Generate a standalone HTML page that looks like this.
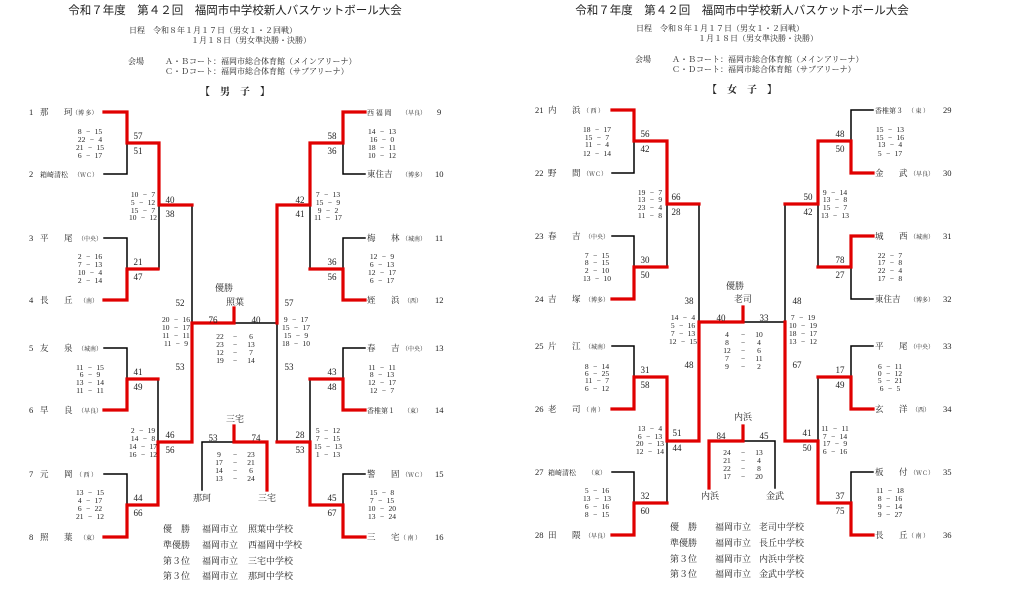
<!DOCTYPE html>
<html><head><meta charset="utf-8"><style>
html,body{margin:0;padding:0;background:#fff;}
svg{display:block;font-family:"Liberation Serif","Noto Serif CJK SC","Noto Sans CJK JP",serif;}
.s{font-size:7.5px;text-anchor:middle;fill:#222;word-spacing:2.5px}
.n{font-size:8.5px;fill:#222}
.sc{font-size:9px;fill:#222}
.rg{font-size:6px;fill:#222}
.h{font-size:8px;fill:#222}
</style></head><body>
<svg width="1021" height="603" viewBox="0 0 1021 603" xmlns="http://www.w3.org/2000/svg">
<g fill="none" stroke-linecap="square">
<g stroke="#000" stroke-width="1.5">
<path d="M104 174H127V143"/><path d="M104 238H127V269"/><path d="M159 205V269"/>
<path d="M104 348H127V379"/><path d="M104 474H127V505"/><path d="M158 379V442"/>
<path d="M192 205V323"/><path d="M234 323H277"/><path d="M277 323V442"/>
<path d="M365 174H343V143"/><path d="M365 238H343V269"/><path d="M310 205V269"/>
<path d="M365 348H343V379"/><path d="M365 474H343V505"/><path d="M310 379V442"/>
<path d="M234 442H202V490"/>
</g>
<g stroke="#e00000" stroke-width="3.2">
<path d="M104 112H127V143H159V205H192"/><path d="M104 300H127V269H158"/>
<path d="M104 410H127V379H158"/><path d="M104 537H127V505H158V442H192V323H234V308"/>
<path d="M365 112H343V143H310V205H277V323"/><path d="M365 300H343V269H310"/>
<path d="M365 410H343V379H310"/><path d="M365 537H343V505H310V442H277"/>
<path d="M234 426V442H267V490"/>
</g>
<g stroke="#000" stroke-width="1.5">
<path d="M612 173H634V141"/><path d="M612 236H634V267"/><path d="M667 204V267"/>
<path d="M612 346H634V377"/><path d="M612 472H634V503H667V441"/>
<path d="M699 204V322"/><path d="M743 322H785V204"/>
<path d="M873 110H851V141"/><path d="M873 299H851V267"/><path d="M818 204V267"/>
<path d="M873 346H851V377"/><path d="M818 377V441"/><path d="M873 472H851V503"/>
<path d="M743 441H775V488"/>
</g>
<g stroke="#e00000" stroke-width="3.2">
<path d="M612 110H634V141H667V204H699"/><path d="M612 299H634V267H667"/>
<path d="M612 409H634V377H667V441H699V322H743V307"/><path d="M612 535H634V503H667"/>
<path d="M873 173H851V141H818V204H785"/><path d="M873 236H851V267H818"/>
<path d="M873 409H851V377H818"/><path d="M873 535H851V503H818V441H785V322"/>
<path d="M743 426V441H709V488"/>
</g>
</g>

<g font-family="Liberation Sans,Noto Sans CJK JP,sans-serif">
<text x="235" y="14" font-size="11.5" text-anchor="middle" fill="#222">令和７年度　第４２回　福岡市中学校新人バスケットボール大会</text>
<text x="742" y="14" font-size="11.5" text-anchor="middle" fill="#222">令和７年度　第４２回　福岡市中学校新人バスケットボール大会</text>
</g>
<g class="h">
<text x="129" y="33">日程　令和８年１月１７日（男女１・２回戦）</text>
<text x="191" y="43">１月１８日（男女準決勝・決勝）</text>
<text x="128" y="64">会場</text>
<text x="165" y="64">Ａ・Ｂコート：福岡市総合体育館（メインアリーナ）</text>
<text x="165" y="74">Ｃ・Ｄコート：福岡市総合体育館（サブアリーナ）</text>
<text x="636" y="31">日程　令和８年１月１７日（男女１・２回戦）</text>
<text x="698" y="41">１月１８日（男女準決勝・決勝）</text>
<text x="635" y="62">会場</text>
<text x="672" y="62">Ａ・Ｂコート：福岡市総合体育館（メインアリーナ）</text>
<text x="672" y="72">Ｃ・Ｄコート：福岡市総合体育館（サブアリーナ）</text>
</g>
<text x="235" y="95" font-size="10" font-weight="bold" text-anchor="middle" fill="#222">【　男　子　】</text>
<text x="742" y="93" font-size="10" font-weight="bold" text-anchor="middle" fill="#222">【　女　子　】</text>

<g class="n">
<text x="29" y="115">1</text><text x="40" y="115">那</text><text x="64" y="115">珂</text><text x="72" y="115" class="rg">（博 多）</text>
<text x="29" y="177">2</text><text x="40" y="177" font-size="7">箱崎清松</text><text x="74" y="177" class="rg">（ＷＣ）</text>
<text x="29" y="241">3</text><text x="40" y="241">平</text><text x="64" y="241">尾</text><text x="78" y="241" class="rg">（中央）</text>
<text x="29" y="303">4</text><text x="40" y="303">長</text><text x="64" y="303">丘</text><text x="80" y="303" class="rg">（南）</text>
<text x="29" y="351">5</text><text x="40" y="351">友</text><text x="64" y="351">泉</text><text x="78" y="351" class="rg">（城南）</text>
<text x="29" y="413">6</text><text x="40" y="413">早</text><text x="64" y="413">良</text><text x="78" y="413" class="rg">（早良）</text>
<text x="29" y="477">7</text><text x="40" y="477">元</text><text x="64" y="477">岡</text><text x="76" y="477" class="rg">（ 西 ）</text>
<text x="29" y="540">8</text><text x="40" y="540">照</text><text x="64" y="540">葉</text><text x="80" y="540" class="rg">（東）</text>
<text x="367" y="115" font-size="7">西 福 岡</text><text x="402" y="115" class="rg">（早良）</text><text x="437" y="115">9</text>
<text x="367" y="177">東住吉</text><text x="402" y="177" class="rg">（博多）</text><text x="435" y="177">10</text>
<text x="367" y="241">梅</text><text x="391" y="241">林</text><text x="402" y="241" class="rg">（城南）</text><text x="435" y="241">11</text>
<text x="367" y="303">姪</text><text x="391" y="303">浜</text><text x="404" y="303" class="rg">（西）</text><text x="435" y="303">12</text>
<text x="367" y="351">春</text><text x="391" y="351">吉</text><text x="402" y="351" class="rg">（中央）</text><text x="435" y="351">13</text>
<text x="367" y="413" font-size="7">香椎第１</text><text x="404" y="413" class="rg">（東）</text><text x="435" y="413">14</text>
<text x="367" y="477">警</text><text x="391" y="477">固</text><text x="402" y="477" class="rg">（ＷＣ）</text><text x="435" y="477">15</text>
<text x="367" y="540">三</text><text x="391" y="540">宅</text><text x="400" y="540" class="rg">（ 南 ）</text><text x="435" y="540">16</text>
<text x="535" y="113">21</text><text x="548" y="113">内</text><text x="572" y="113">浜</text><text x="583" y="113" class="rg">（ 西 ）</text>
<text x="535" y="176">22</text><text x="548" y="176">野</text><text x="572" y="176">間</text><text x="583" y="176" class="rg">（ＷＣ）</text>
<text x="535" y="239">23</text><text x="548" y="239">春</text><text x="572" y="239">吉</text><text x="585" y="239" class="rg">（中央）</text>
<text x="535" y="302">24</text><text x="548" y="302">吉</text><text x="572" y="302">塚</text><text x="585" y="302" class="rg">（博多）</text>
<text x="535" y="349">25</text><text x="548" y="349">片</text><text x="572" y="349">江</text><text x="585" y="349" class="rg">（城南）</text>
<text x="535" y="412">26</text><text x="548" y="412">老</text><text x="572" y="412">司</text><text x="583" y="412" class="rg">（ 南 ）</text>
<text x="535" y="475">27</text><text x="548" y="475" font-size="7">箱崎清松</text><text x="588" y="475" class="rg">（東）</text>
<text x="535" y="538">28</text><text x="548" y="538">田</text><text x="572" y="538">隈</text><text x="585" y="538" class="rg">（早良）</text>
<text x="875" y="113" font-size="7">香椎第３</text><text x="908" y="113" class="rg">（ 東 ）</text><text x="943" y="113">29</text>
<text x="875" y="176">金</text><text x="899" y="176">武</text><text x="910" y="176" class="rg">（早良）</text><text x="943" y="176">30</text>
<text x="875" y="239">城</text><text x="899" y="239">西</text><text x="910" y="239" class="rg">（城南）</text><text x="943" y="239">31</text>
<text x="875" y="302">東住吉</text><text x="910" y="302" class="rg">（博多）</text><text x="943" y="302">32</text>
<text x="875" y="349">平</text><text x="899" y="349">尾</text><text x="910" y="349" class="rg">（中央）</text><text x="943" y="349">33</text>
<text x="875" y="412">玄</text><text x="899" y="412">洋</text><text x="912" y="412" class="rg">（西）</text><text x="943" y="412">34</text>
<text x="875" y="475">板</text><text x="899" y="475">付</text><text x="910" y="475" class="rg">（ＷＣ）</text><text x="943" y="475">35</text>
<text x="875" y="538">長</text><text x="899" y="538">丘</text><text x="908" y="538" class="rg">（ 南 ）</text><text x="943" y="538">36</text>
</g>

<g class="sc" text-anchor="middle">
<text x="138" y="139">57</text><text x="138" y="154">51</text><text x="170" y="203">40</text><text x="170" y="217">38</text>
<text x="138" y="265">21</text><text x="138" y="280">47</text><text x="180" y="306">52</text><text x="180" y="370">53</text>
<text x="138" y="375">41</text><text x="138" y="390">49</text><text x="170" y="438">46</text><text x="170" y="453">56</text>
<text x="138" y="501">44</text><text x="138" y="516">66</text>
<text x="213" y="323">76</text><text x="256" y="323">40</text>
<text x="332" y="139">58</text><text x="332" y="154">36</text><text x="300" y="203">42</text><text x="300" y="217">41</text>
<text x="332" y="265">36</text><text x="332" y="280">56</text><text x="289" y="306">57</text><text x="289" y="370">53</text>
<text x="332" y="375">43</text><text x="332" y="390">48</text><text x="300" y="438">28</text><text x="300" y="453">53</text>
<text x="332" y="501">45</text><text x="332" y="516">67</text>
<text x="213" y="441">53</text><text x="256" y="441">74</text>
<text x="645" y="137">56</text><text x="645" y="152">42</text><text x="676" y="200">66</text><text x="676" y="215">28</text>
<text x="645" y="263">30</text><text x="645" y="278">50</text><text x="689" y="304">38</text><text x="689" y="368">48</text>
<text x="645" y="373">31</text><text x="645" y="388">58</text><text x="677" y="436">51</text><text x="677" y="451">44</text>
<text x="645" y="499">32</text><text x="645" y="514">60</text>
<text x="721" y="321">40</text><text x="764" y="321">33</text>
<text x="840" y="137">48</text><text x="840" y="152">50</text><text x="808" y="200">50</text><text x="808" y="215">42</text>
<text x="840" y="263">78</text><text x="840" y="278">27</text><text x="797" y="304">48</text><text x="797" y="368">67</text>
<text x="840" y="373">17</text><text x="840" y="388">49</text><text x="807" y="436">41</text><text x="807" y="451">50</text>
<text x="840" y="499">37</text><text x="840" y="514">75</text>
<text x="721" y="439">84</text><text x="764" y="439">45</text>
</g>

<g class="sc" text-anchor="middle">
<text x="224" y="291">優勝</text><text x="235" y="305">照葉</text>
<text x="235" y="422">三宅</text><text x="202" y="501">那珂</text><text x="267" y="501">三宅</text>
<text x="735" y="289">優勝</text><text x="743" y="302">老司</text>
<text x="743" y="420">内浜</text><text x="710" y="499">内浜</text><text x="775" y="499">金武</text>
</g>

<g class="sc">
<text x="163" y="532">優　勝</text><text x="202" y="532">福岡市立</text><text x="248" y="532">照葉中学校</text>
<text x="163" y="548">準優勝</text><text x="202" y="548">福岡市立</text><text x="248" y="548">西福岡中学校</text>
<text x="163" y="564">第３位</text><text x="202" y="564">福岡市立</text><text x="248" y="564">三宅中学校</text>
<text x="163" y="579">第３位</text><text x="202" y="579">福岡市立</text><text x="248" y="579">那珂中学校</text>
<text x="670" y="530">優　勝</text><text x="715" y="530">福岡市立</text><text x="759" y="530">老司中学校</text>
<text x="670" y="546">準優勝</text><text x="715" y="546">福岡市立</text><text x="759" y="546">長丘中学校</text>
<text x="670" y="562">第３位</text><text x="715" y="562">福岡市立</text><text x="759" y="562">内浜中学校</text>
<text x="670" y="577">第３位</text><text x="715" y="577">福岡市立</text><text x="759" y="577">金武中学校</text>
</g>

<g class="s">
<text x="90" y="134">8 − 15</text><text x="90" y="142">22 − 4</text><text x="90" y="150">21 − 15</text><text x="90" y="158">6 − 17</text>
<text x="90" y="259">2 − 16</text><text x="90" y="267">7 − 13</text><text x="90" y="275">10 − 4</text><text x="90" y="283">2 − 14</text>
<text x="90" y="370">11 − 15</text><text x="90" y="377">6 − 9</text><text x="90" y="385">13 − 14</text><text x="90" y="393">11 − 11</text>
<text x="90" y="495">13 − 15</text><text x="90" y="503">4 − 17</text><text x="90" y="511">6 − 22</text><text x="90" y="519">21 − 12</text>
<text x="143" y="197">10 − 7</text><text x="143" y="205">5 − 12</text><text x="143" y="213">15 − 7</text><text x="143" y="220">10 − 12</text>
<text x="143" y="433">2 − 19</text><text x="143" y="441">14 − 8</text><text x="143" y="449">14 − 17</text><text x="143" y="457">16 − 12</text>
<text x="176" y="322">20 − 16</text><text x="176" y="330">10 − 17</text><text x="176" y="338">11 − 11</text><text x="176" y="346">11 − 9</text>
<text x="296" y="322">9 − 17</text><text x="296" y="330">15 − 17</text><text x="296" y="338">15 − 9</text><text x="296" y="346">18 − 10</text>
<text x="328" y="197">7 − 13</text><text x="328" y="205">15 − 9</text><text x="328" y="213">9 − 2</text><text x="328" y="220">11 − 17</text>
<text x="328" y="433">5 − 12</text><text x="328" y="441">7 − 15</text><text x="328" y="449">15 − 13</text><text x="328" y="457">1 − 13</text>
<text x="382" y="134">14 − 13</text><text x="382" y="142">16 − 0</text><text x="382" y="150">18 − 11</text><text x="382" y="158">10 − 12</text>
<text x="382" y="259">12 − 9</text><text x="382" y="267">6 − 13</text><text x="382" y="275">12 − 17</text><text x="382" y="283">6 − 17</text>
<text x="382" y="370">11 − 11</text><text x="382" y="377">8 − 13</text><text x="382" y="385">12 − 17</text><text x="382" y="393">12 − 7</text>
<text x="382" y="495">15 − 8</text><text x="382" y="503">7 − 15</text><text x="382" y="511">10 − 20</text><text x="382" y="519">13 − 24</text>
<text x="597" y="132">18 − 17</text><text x="597" y="140">15 − 7</text><text x="597" y="147">11 − 4</text><text x="597" y="156">12 − 14</text>
<text x="597" y="258">7 − 15</text><text x="597" y="265">8 − 15</text><text x="597" y="273">2 − 10</text><text x="597" y="281">13 − 10</text>
<text x="597" y="369">8 − 14</text><text x="597" y="376">6 − 25</text><text x="597" y="383">11 − 7</text><text x="597" y="391">6 − 12</text>
<text x="597" y="493">5 − 16</text><text x="597" y="501">13 − 13</text><text x="597" y="509">6 − 16</text><text x="597" y="517">8 − 15</text>
<text x="650" y="195">19 − 7</text><text x="650" y="202">13 − 9</text><text x="650" y="210">23 − 4</text><text x="650" y="218">11 − 8</text>
<text x="650" y="431">13 − 4</text><text x="650" y="439">6 − 13</text><text x="650" y="446">20 − 13</text><text x="650" y="454">12 − 14</text>
<text x="683" y="320">14 − 4</text><text x="683" y="328">5 − 16</text><text x="683" y="336">7 − 13</text><text x="683" y="344">12 − 15</text>
<text x="803" y="320">7 − 19</text><text x="803" y="328">10 − 19</text><text x="803" y="336">18 − 17</text><text x="803" y="344">13 − 12</text>
<text x="835" y="195">9 − 14</text><text x="835" y="202">13 − 8</text><text x="835" y="210">15 − 7</text><text x="835" y="218">13 − 13</text>
<text x="835" y="431">11 − 11</text><text x="835" y="439">7 − 14</text><text x="835" y="446">17 − 9</text><text x="835" y="454">6 − 16</text>
<text x="890" y="132">15 − 13</text><text x="890" y="140">15 − 16</text><text x="890" y="147">13 − 4</text><text x="890" y="156">5 − 17</text>
<text x="890" y="258">22 − 7</text><text x="890" y="265">17 − 8</text><text x="890" y="273">22 − 4</text><text x="890" y="281">17 − 8</text>
<text x="890" y="369">6 − 11</text><text x="890" y="376">0 − 12</text><text x="890" y="383">5 − 21</text><text x="890" y="391">6 − 5</text>
<text x="890" y="493">11 − 18</text><text x="890" y="501">8 − 16</text><text x="890" y="509">9 − 14</text><text x="890" y="517">9 − 27</text>
</g>
<g class="s">
<text x="220" y="339">22</text><text x="235" y="339">−</text><text x="251" y="339">6</text>
<text x="220" y="347">23</text><text x="235" y="347">−</text><text x="251" y="347">13</text>
<text x="220" y="355">12</text><text x="235" y="355">−</text><text x="251" y="355">7</text>
<text x="220" y="363">19</text><text x="235" y="363">−</text><text x="251" y="363">14</text>
<text x="219" y="457">9</text><text x="235" y="457">−</text><text x="251" y="457">23</text>
<text x="219" y="465">17</text><text x="235" y="465">−</text><text x="251" y="465">21</text>
<text x="219" y="473">14</text><text x="235" y="473">−</text><text x="251" y="473">6</text>
<text x="219" y="481">13</text><text x="235" y="481">−</text><text x="251" y="481">24</text>
<text x="727" y="337">4</text><text x="743" y="337">−</text><text x="759" y="337">10</text>
<text x="727" y="345">8</text><text x="743" y="345">−</text><text x="759" y="345">4</text>
<text x="727" y="353">12</text><text x="743" y="353">−</text><text x="759" y="353">6</text>
<text x="727" y="361">7</text><text x="743" y="361">−</text><text x="759" y="361">11</text>
<text x="727" y="369">9</text><text x="743" y="369">−</text><text x="759" y="369">2</text>
<text x="727" y="455">24</text><text x="743" y="455">−</text><text x="759" y="455">13</text>
<text x="727" y="463">21</text><text x="743" y="463">−</text><text x="759" y="463">4</text>
<text x="727" y="471">22</text><text x="743" y="471">−</text><text x="759" y="471">8</text>
<text x="727" y="479">17</text><text x="743" y="479">−</text><text x="759" y="479">20</text>
</g>
</svg>
</body></html>
